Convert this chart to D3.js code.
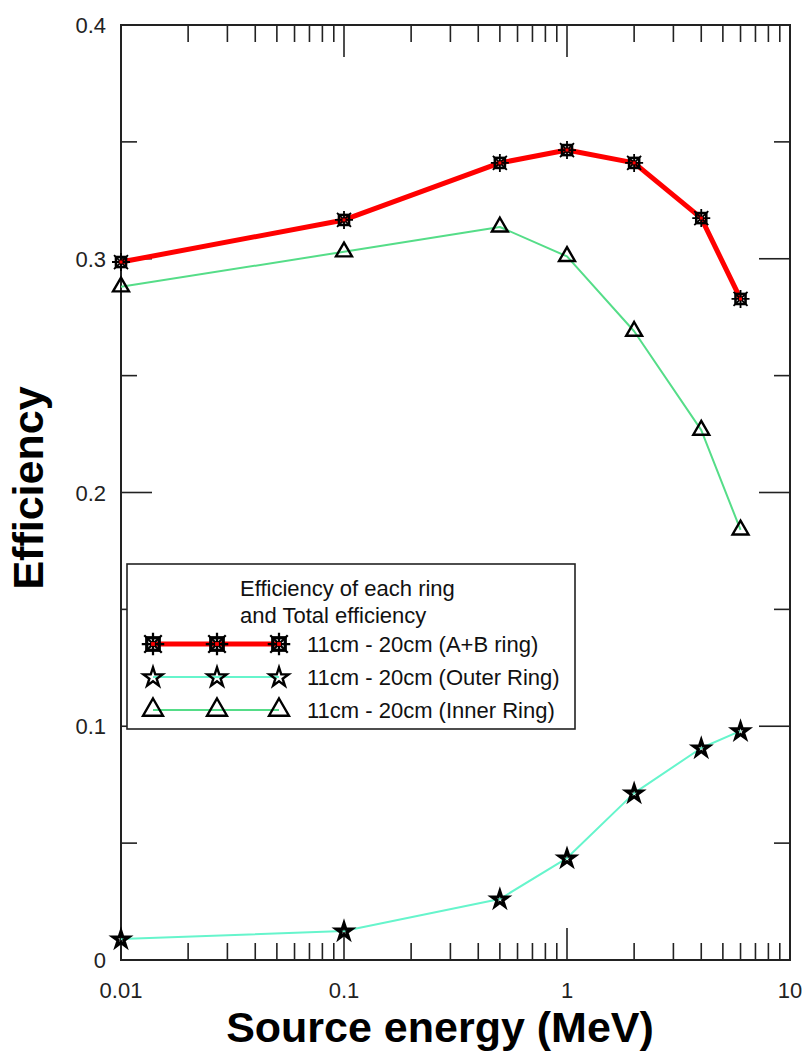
<!DOCTYPE html>
<html>
<head>
<meta charset="utf-8">
<script src="https://cdn.jsdelivr.net/npm/d3@7"></script>
<style>
  html, body { margin: 0; padding: 0; background: #fff; }
  svg { display: block; font-family: "Liberation Sans", Arial, sans-serif; }
</style>
</head>
<body>
<svg id="chart" width="806" height="1055"></svg>
<script>
// Source energies (MeV)
const energies = [0.01, 0.1, 0.5, 1, 2, 4, 6];
// Detection efficiency per configuration
const totalAB   = [0.2986, 0.3166, 0.3410, 0.3465, 0.3410, 0.3174, 0.2828];
const outerRing = [0.0090, 0.0124, 0.0261, 0.0436, 0.0714, 0.0907, 0.0980];
const innerRing = [0.2880, 0.3030, 0.3136, 0.3010, 0.2690, 0.2267, 0.1840];

const seriesNames = ["11cm - 20cm (A+B ring)", "11cm - 20cm (Outer Ring)", "11cm - 20cm (Inner Ring)"];
const legendTitle = ["Efficiency of each ring", "and Total efficiency"];
const xTickValues = [0.01, 0.1, 1, 10];
const xTickLabels = ["0.01", "0.1", "1", "10"];
const yTickValues = [0, 0.1, 0.2, 0.3, 0.4];
const yTickLabels = ["0", "0.1", "0.2", "0.3", "0.4"];

const svg = d3.select("#chart");
const plot = { left: 121, right: 790, top: 25, bottom: 960 };

const x = d3.scaleLog().domain([0.01, 10]).range([plot.left, plot.right]);
const y = d3.scaleLinear().domain([0, 0.4]).range([plot.bottom, plot.top]);

const axisColor = "#222";

// Ticks (inward, on all four sides)
const ticks = svg.append("g").attr("stroke", axisColor).attr("stroke-width", 1.6);
const minorX = [];
[0.01, 0.1, 1].forEach(d => { for (let k = 2; k <= 9; k++) minorX.push(d * k); });
const majorX = [0.1, 1];
majorX.forEach(v => {
  ticks.append("line").attr("x1", x(v)).attr("x2", x(v)).attr("y1", plot.bottom).attr("y2", plot.bottom - 32);
  ticks.append("line").attr("x1", x(v)).attr("x2", x(v)).attr("y1", plot.top).attr("y2", plot.top + 32);
});
minorX.forEach(v => {
  ticks.append("line").attr("x1", x(v)).attr("x2", x(v)).attr("y1", plot.bottom).attr("y2", plot.bottom - 17);
  ticks.append("line").attr("x1", x(v)).attr("x2", x(v)).attr("y1", plot.top).attr("y2", plot.top + 17);
});
const majorY = [0.1, 0.2, 0.3];
const minorY = [0.05, 0.15, 0.25, 0.35];
majorY.forEach(v => {
  ticks.append("line").attr("x1", plot.left).attr("x2", plot.left + 31).attr("y1", y(v)).attr("y2", y(v));
  ticks.append("line").attr("x1", plot.right).attr("x2", plot.right - 31).attr("y1", y(v)).attr("y2", y(v));
});
minorY.forEach(v => {
  ticks.append("line").attr("x1", plot.left).attr("x2", plot.left + 16).attr("y1", y(v)).attr("y2", y(v));
  ticks.append("line").attr("x1", plot.right).attr("x2", plot.right - 16).attr("y1", y(v)).attr("y2", y(v));
});

// Frame
svg.append("rect")
  .attr("x", plot.left).attr("y", plot.top)
  .attr("width", plot.right - plot.left).attr("height", plot.bottom - plot.top)
  .attr("fill", "none").attr("stroke", axisColor).attr("stroke-width", 2);

// Tick labels
const labelFont = 22;
svg.append("g").selectAll("text").data(xTickValues).join("text")
  .attr("x", d => x(d)).attr("y", plot.bottom + 38)
  .attr("text-anchor", "middle").attr("font-size", labelFont).attr("fill", "#222")
  .text((d, i) => xTickLabels[i]);
svg.append("g").selectAll("text").data(yTickValues).join("text")
  .attr("x", plot.left - 15).attr("y", d => y(d) + 8)
  .attr("text-anchor", "end").attr("font-size", labelFont).attr("fill", "#222")
  .text((d, i) => yTickLabels[i]);

// Axis titles
svg.append("text")
  .attr("x", 440).attr("y", 1042)
  .attr("text-anchor", "middle").attr("font-size", 43).attr("font-weight", "bold")
  .text("Source energy (MeV)");
svg.append("text")
  .attr("transform", "translate(43,488) rotate(-90)")
  .attr("text-anchor", "middle").attr("font-size", 43).attr("font-weight", "bold")
  .text("Efficiency");

// Markers
function markAB(g, cx, cy, s) {
  const m = g.append("g").attr("transform", `translate(${cx},${cy}) scale(${s})`)
    .attr("stroke", "#000").attr("fill", "none");
  m.append("rect").attr("x", -5).attr("y", -5).attr("width", 10).attr("height", 10).attr("stroke-width", 2.6);
  m.append("path").attr("d", "M-9,0H9M0,-9V9M-7,-7L7,7M-7,7L7,-7").attr("stroke-width", 1.8);
  m.append("rect").attr("x", -1.5).attr("y", -1.5).attr("width", 3).attr("height", 3).attr("fill", "#ff0000").attr("stroke", "none");
}
const starPath = d3.symbol(d3.symbolStar, 72)();
function markStar(g, cx, cy, s, w) {
  g.append("path").attr("d", starPath)
    .attr("transform", `translate(${cx},${cy + 0.5}) scale(${s})`)
    .attr("fill", "none").attr("stroke", "#000").attr("stroke-width", (w || 3.2) / s)
    .attr("stroke-linejoin", "miter");
}
const triPath = d3.symbol(d3.symbolTriangle, 110)();
function markTri(g, cx, cy, s) {
  g.append("path").attr("d", triPath)
    .attr("transform", `translate(${cx},${cy}) scale(${s})`)
    .attr("fill", "none").attr("stroke", "#000").attr("stroke-width", 2.4 / s)
    .attr("stroke-linejoin", "miter");
}

const series = [
  { name: seriesNames[0], values: totalAB,   color: "#ff0000", width: 5, mark: markAB },
  { name: seriesNames[1], values: outerRing, color: "#66f5cc", width: 2, mark: markStar },
  { name: seriesNames[2], values: innerRing, color: "#55dd88", width: 2, mark: markTri }
];

const line = d3.line().x(d => x(d[0])).y(d => y(d[1]));

const plotG = svg.append("g");
// back-to-front: inner, outer, total
[2, 1, 0].forEach(i => {
  const s = series[i];
  const pts = energies.map((e, j) => [e, s.values[j]]);
  plotG.append("path").datum(pts).attr("d", line)
    .attr("fill", "none").attr("stroke", s.color).attr("stroke-width", s.width)
    .attr("stroke-linejoin", "round");
  pts.forEach(p => s.mark(plotG, x(p[0]), y(p[1]), 1));
});

// Legend
const lg = svg.append("g");
lg.append("rect").attr("x", 127).attr("y", 564).attr("width", 448).attr("height", 165)
  .attr("fill", "#fff").attr("stroke", axisColor).attr("stroke-width", 1.6);
lg.selectAll("text.title").data(legendTitle).join("text").attr("class", "title")
  .attr("x", 240).attr("y", (d, i) => 596 + i * 27)
  .attr("font-size", 22).attr("fill", "#111").text(d => d);
const rowY = [644, 677, 710];
const markX = [153, 217, 279];
series.forEach((s, i) => {
  lg.append("line").attr("x1", markX[0]).attr("x2", markX[2])
    .attr("y1", rowY[i]).attr("y2", rowY[i])
    .attr("stroke", s.color).attr("stroke-width", s.width);
  markX.forEach(mx => s.mark(lg, mx, rowY[i], 1.25, 2.4));
  lg.append("text").attr("x", 307).attr("y", rowY[i] + 8)
    .attr("font-size", 22).attr("fill", "#111").text(s.name);
});
</script>
</body>
</html>
